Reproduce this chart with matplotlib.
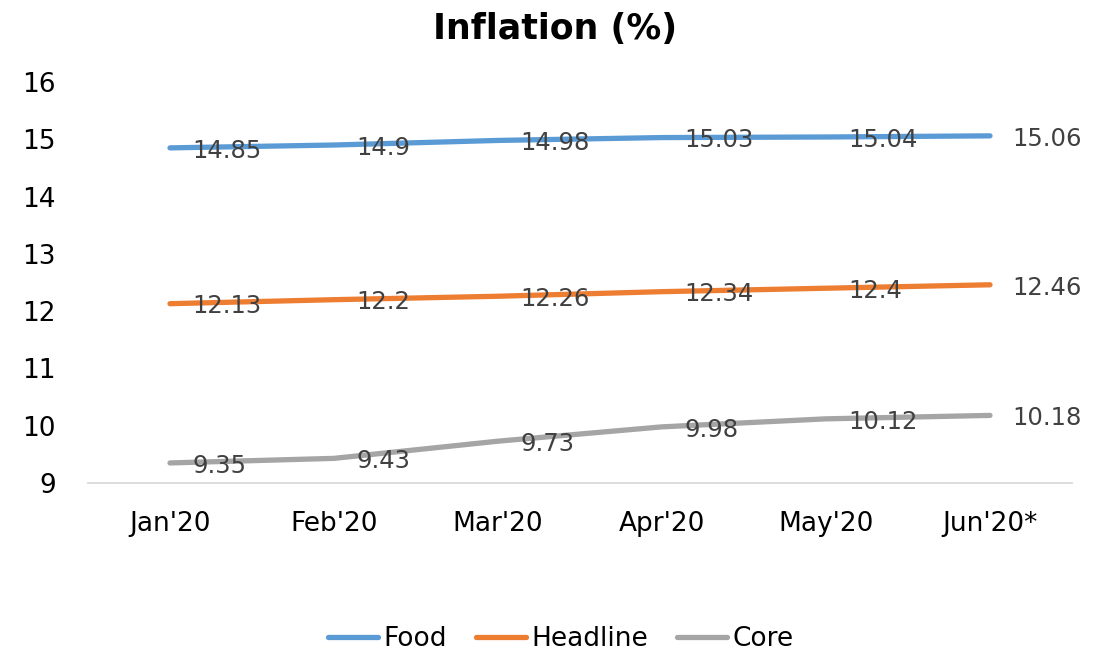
import matplotlib
matplotlib.use("Agg")
import matplotlib.pyplot as plt
from matplotlib.lines import Line2D

months = ["Jan'20", "Feb'20", "Mar'20", "Apr'20", "May'20", "Jun'20*"]
food = [14.85, 14.9, 14.98, 15.03, 15.04, 15.06]
headline = [12.13, 12.2, 12.26, 12.34, 12.4, 12.46]
core = [9.35, 9.43, 9.73, 9.98, 10.12, 10.18]
yticks = [9, 10, 11, 12, 13, 14, 15, 16]

series = [("Food", food, "#5B9BD5"), ("Headline", headline, "#ED7D31"), ("Core", core, "#A5A5A5")]

plt.rcParams['font.family'] = ['DejaVu Sans']
fig = plt.figure(figsize=(10.99, 6.55), dpi=100)
ax = fig.add_axes([88/1099, 1-483/655, (1072-88)/1099, (483-82)/655])

x = list(range(len(months)))
for name, vals, col in series:
    ax.plot(x, vals, color=col, lw=3.8, solid_capstyle='round', label=name, zorder=2)
    for xi, v in zip(x, vals):
        ax.annotate(f"{v:g}", (xi, v), xytext=(16, -2), textcoords='offset points',
                    ha='left', va='center', fontsize=17.5, color='#404040', zorder=3)

ax.set_xlim(-0.5, len(months) - 0.5)
ax.set_ylim(9, 16)
ax.set_yticks(yticks)
ax.set_xticks(x)
ax.set_xticklabels(months)
ax.tick_params(axis='y', length=0, pad=23, labelsize=19, colors='black')
ax.tick_params(axis='x', length=0, pad=20, labelsize=19, colors='black')
for s in ['top', 'right', 'left']:
    ax.spines[s].set_visible(False)
ax.spines['bottom'].set_color('#D9D9D9')
ax.spines['bottom'].set_linewidth(1.3)

fig.text(0.505, 1-29/655, "Inflation (%)", ha='center', va='center', fontsize=25, fontweight='bold')

handles = [Line2D([0], [0], color=c, lw=3.8, solid_capstyle='round') for _, _, c in series]
fig.legend(handles, [n for n, _, _ in series], loc='center', bbox_to_anchor=(561/1099, 1-639/655),
           ncol=3, frameon=False, fontsize=19, handlelength=1.9, handletextpad=0.2,
           columnspacing=1.1)

fig.savefig("out.png", dpi=100)
